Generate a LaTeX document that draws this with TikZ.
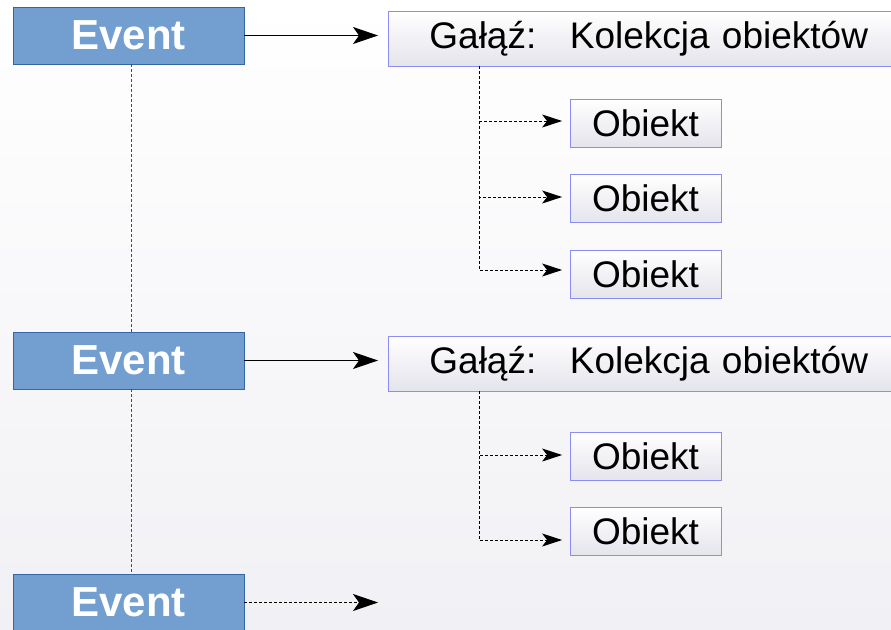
\documentclass[tikz,border=0pt]{standalone}
\usepackage{fontspec}
\setmainfont{Liberation Sans}
\usetikzlibrary{arrows.meta,calc}
\definecolor{evfill}{RGB}{114,159,207}
\definecolor{evdraw}{RGB}{52,101,164}
\definecolor{bxdraw}{RGB}{140,140,245}
\definecolor{bxbot}{RGB}{228,228,236}
\definecolor{bgbot}{RGB}{241,241,245}
\tikzset{
  evbox/.style={draw=evdraw, fill=evfill, line width=0.8pt, minimum width=231pt, minimum height=57pt, inner sep=0pt,
    text=white, font=\fontsize{42}{50}\selectfont\bfseries},
  gbox/.style={draw=bxdraw, top color=white, bottom color=bxbot, line width=0.8pt, minimum height=55pt,
    text width=480pt, inner xsep=41pt, inner ysep=0pt, align=left, anchor=west, font=\fontsize{37}{44}\selectfont},
  obox/.style={draw=bxdraw, top color=white, bottom color=bxbot, line width=0.8pt, minimum width=151pt, minimum height=48pt,
    inner sep=0pt, font=\fontsize{37}{44}\selectfont},
  bigarrow/.style={line width=1pt, -{Stealth[length=25pt,width=17pt,inset=6pt]}},
  smallarrow/.style={line width=1pt, dash pattern=on 3pt off 2pt, -{Stealth[length=20pt,width=13pt,inset=5pt]}},
  evlink/.style={line width=1pt, draw=black!70, dash pattern=on 3pt off 2pt},
}
\begin{document}
\begin{tikzpicture}[x=1pt,y=-1pt]
\useasboundingbox (0,0) rectangle (891,629);
\shade[top color=white, bottom color=bgbot] (0,0) rectangle (891,629);

\node[evbox] (e1) at (128.5,35.5) {Event};
\node[evbox] (e2) at (128.5,360.5) {Event};
\node[evbox] (e3) at (128.5,602.5) {Event};

\node[gbox] (g1) at (388,38.5) {Gałąź:\hspace{15pt} Kolekcja obiektów};
\node[gbox] (g2) at (388,363.5) {Gałąź:\hspace{15pt} Kolekcja obiektów};

\node[obox] (o1) at (645.5,123) {Obiekt};
\node[obox] (o2) at (645.5,198.5) {Obiekt};
\node[obox] (o3) at (645.5,274) {Obiekt};
\node[obox] (o4) at (645.5,456) {Obiekt};
\node[obox] (o5) at (645.5,531.5) {Obiekt};

\coordinate (end3) at (378,602.5);

% event chain
\draw[evlink] ([xshift=2.5pt]e1.south) -- ([xshift=2.5pt]e2.north);
\draw[evlink] ([xshift=2.5pt]e2.south) -- ([xshift=2.5pt]e3.north);

% event -> branch
\draw[bigarrow, shorten >=10pt] (e1.east) -- (e1.east -| g1.west);
\draw[bigarrow, shorten >=10pt] (e2.east) -- (e2.east -| g2.west);
\draw[bigarrow, dash pattern=on 3pt off 2pt] (e3.east) -- (end3);

% branch -> objects
\coordinate (b1) at ($(g1.south west)+(91,0)$);
\coordinate (b2) at ($(g2.south west)+(91,0)$);
\draw[smallarrow, shorten >=7.5pt] (b1) |- ([yshift=2pt]o1.west);
\draw[smallarrow, shorten >=7.5pt] (b1) |- ([yshift=1.5pt]o2.west);
\draw[smallarrow, shorten >=7.5pt] (b1) |- ([yshift=4pt]o3.west);
\draw[smallarrow, shorten >=7.5pt] (b2) |- ([yshift=1pt]o4.west);
\draw[smallarrow, shorten >=7.5pt] (b2) |- ([yshift=-8.5pt]o5.west);
\end{tikzpicture}
\end{document}
